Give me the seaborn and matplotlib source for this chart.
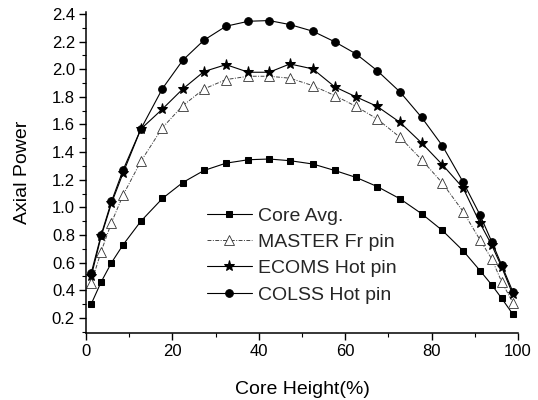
import matplotlib
matplotlib.use("Agg")
import matplotlib.pyplot as plt
from matplotlib.ticker import MultipleLocator, FormatStrFormatter
import seaborn as sns

# Axial power distributions along the core height
core_height = [1.2, 3.5, 5.9, 8.6, 12.7, 17.7, 22.4, 27.3, 32.4, 37.6, 42.4, 47.2,
               52.5, 57.6, 62.5, 67.4, 72.7, 77.7, 82.5, 87.3, 91.2, 93.9, 96.2, 98.8]

core_avg = [0.30, 0.46, 0.60, 0.73, 0.90, 1.065, 1.18, 1.267, 1.32, 1.345, 1.35, 1.338,
            1.314, 1.267, 1.217, 1.151, 1.062, 0.954, 0.833, 0.686, 0.543, 0.44, 0.343, 0.227]

master_fr = [0.45, 0.68, 0.89, 1.09, 1.333, 1.577, 1.736, 1.857, 1.925, 1.949, 1.949, 1.935,
             1.881, 1.809, 1.731, 1.64, 1.507, 1.345, 1.176, 0.97, 0.765, 0.628, 0.463, 0.311]

ecoms_hot = [0.50, 0.79, 1.03, 1.25, 1.567, 1.712, 1.857, 1.983, 2.033, 1.978, 1.978, 2.038,
             2.002, 1.872, 1.80, 1.731, 1.615, 1.466, 1.309, 1.14, 0.886, 0.729, 0.57, 0.37]

colss_hot = [0.524, 0.80, 1.043, 1.272, 1.567, 1.86, 2.065, 2.21, 2.311, 2.347, 2.352, 2.323,
             2.275, 2.198, 2.111, 1.99, 1.835, 1.651, 1.446, 1.183, 0.946, 0.753, 0.584, 0.39]

labels = ["Core Avg.", "MASTER Fr pin", "ECOMS Hot pin", "COLSS Hot pin"]
x_ticks = [0, 20, 40, 60, 80, 100]
y_ticks = [0.2, 0.4, 0.6, 0.8, 1.0, 1.2, 1.4, 1.6, 1.8, 2.0, 2.2, 2.4]

sns.set_theme(style="ticks")
plt.rcParams["font.family"] = ["Liberation Sans", "DejaVu Sans"]

fig = plt.figure(figsize=(5.38, 4.0), dpi=100)
ax = fig.add_axes([86 / 538, 1 - 333 / 400, 432 / 538, 321 / 400])

sns.lineplot(x=core_height, y=core_avg, ax=ax, color="black", linewidth=0.8,
             marker="s", markersize=4.8, markerfacecolor="black", markeredgecolor="black",
             label=labels[0])
sns.lineplot(x=core_height, y=master_fr, ax=ax, color="#444444", linewidth=0.7,
             linestyle=(0, (4, 1.5, 1, 1.5)),
             marker="^", markersize=6.5, markerfacecolor="white", markeredgecolor="#333333",
             markeredgewidth=0.6, label=labels[1])
sns.lineplot(x=core_height, y=ecoms_hot, ax=ax, color="black", linewidth=0.8,
             marker="*", markersize=8, markerfacecolor="black", markeredgecolor="black",
             label=labels[2])
sns.lineplot(x=core_height, y=colss_hot, ax=ax, color="black", linewidth=0.8,
             marker="o", markersize=5.5, markerfacecolor="black", markeredgecolor="black",
             label=labels[3])

ax.set_xlim(0, 100)
ax.set_ylim(0.091, 2.414)
ax.set_xticks(x_ticks)
ax.set_yticks(y_ticks)
ax.xaxis.set_minor_locator(MultipleLocator(10))
ax.yaxis.set_minor_locator(MultipleLocator(0.1))
ax.yaxis.set_major_formatter(FormatStrFormatter("%.1f"))

ax.tick_params(axis="both", which="major", direction="out", length=5, width=1.0,
               labelsize=12, color="black", labelcolor="black", pad=3)
ax.tick_params(axis="both", which="minor", direction="out", length=3, width=0.8,
               color="black")

for side in ("top", "right"):
    ax.spines[side].set_visible(False)
for side in ("left", "bottom"):
    ax.spines[side].set_linewidth(1.1)
    ax.spines[side].set_color("black")

ax.set_xlabel("Core Height(%)", fontsize=14, color="black", labelpad=16)
ax.set_ylabel("Axial Power", fontsize=14, color="black", labelpad=15)

leg = ax.legend(loc="center left", bbox_to_anchor=(0.28, 0.242), frameon=False,
                fontsize=14, handlelength=2.3, handletextpad=0.3, labelspacing=0.45,
                borderpad=0, borderaxespad=0, numpoints=1)

fig.savefig("out.png", dpi=100, facecolor="white")
